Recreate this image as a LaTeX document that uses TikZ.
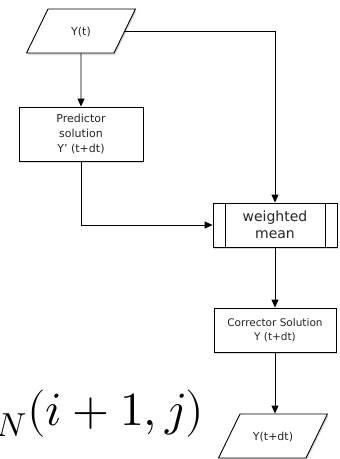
\documentclass[tikz,border=0pt]{standalone}
\usepackage{unicode-math}
\setsansfont{DejaVu Sans}
\usetikzlibrary{arrows.meta,shapes.geometric,shadows}
\begin{document}
\begin{tikzpicture}[x=1pt,y=-1pt,
  every node/.style={font=\sffamily\fontsize{11}{15}\selectfont, text=black!85, align=center, inner sep=0pt},
  box/.style={draw=black, fill=white, line width=0.9pt, drop shadow={shadow xshift=1pt, shadow yshift=-2pt, opacity=0.3}},
  io/.style={box, trapezium, trapezium left angle=64, trapezium right angle=116, text width=66pt, text height=26pt, text depth=18pt},
  link/.style={draw=black, line width=0.9pt},
  arr/.style={link, -{Triangle[length=8pt,width=7pt]}}]
\useasboundingbox (0,0) rectangle (340,459);
\clip (0,0) rectangle (340,459);
\node [anchor=base east, font=\fontsize{47.5}{52}\selectfont, text=black] (nij) at (204,425) {${}_{N}(i+1, j)$};
\node [io] (yt) at (81,31) {Y(t)};
\node [box, minimum width=124pt, minimum height=54pt] (pred) at (81,134) {Predictor\\solution\\Y' (t+dt)};
\node [box, minimum width=124pt, minimum height=44pt, font=\sffamily\fontsize{14}{17}\selectfont] (wm) at (275,225) {weighted\\mean};
\draw [link] ([xshift=13pt]wm.north west) -- ([xshift=13pt]wm.south west);
\draw [link] ([xshift=-12pt]wm.north east) -- ([xshift=-12pt]wm.south east);
\node [box, minimum width=122pt, minimum height=44pt, font=\sffamily\fontsize{10.5}{14}\selectfont] (corr) at (275,330) {Corrector Solution\\Y (t+dt)};
\node [io] (yout) at (273,436) {Y(t+dt)};
\draw [arr] (yt) -- (pred);
\draw [arr] (yt.east) -| (wm.north);
\draw [arr] (pred.south) |- (wm.west);
\draw [arr] (wm) -- (corr);
\draw [arr] (corr.south) -- (corr.south |- yout.north);
\end{tikzpicture}
\end{document}
